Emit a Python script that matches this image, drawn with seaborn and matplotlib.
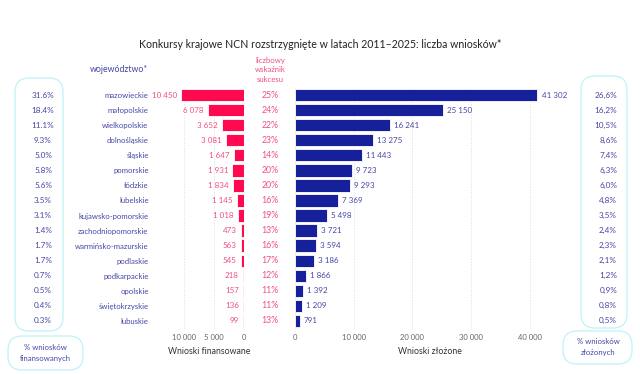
import numpy as np
import pandas as pd
import matplotlib
matplotlib.use("Agg")
import matplotlib.pyplot as plt
import matplotlib.transforms as mtransforms
from matplotlib.patches import FancyBboxPatch
import seaborn as sns

# dane
wojewodztwa = ["mazowieckie", "małopolskie", "wielkopolskie", "dolnośląskie", "śląskie",
               "pomorskie", "łódzkie", "lubelskie", "kujawsko-pomorskie", "zachodniopomorskie",
               "warmińsko-mazurskie", "podlaskie", "podkarpackie", "opolskie",
               "świętokrzyskie", "lubuskie"]
finansowane = [10450, 6078, 3652, 3081, 1647, 1931, 1834, 1145, 1018, 473, 563, 545, 218, 157, 136, 99]
zlozone = [41302, 25150, 16241, 13275, 11443, 9723, 9293, 7369, 5498, 3721, 3594, 3186, 1866, 1392, 1209, 791]
sukces = ["25%", "24%", "22%", "23%", "14%", "20%", "20%", "16%", "19%", "13%", "16%", "17%",
          "12%", "11%", "11%", "13%"]
proc_fin = ["31.6%", "18.4%", "11.1%", "9.3%", "5.0%", "5.8%", "5.6%", "3.5%", "3.1%", "1.4%",
            "1.7%", "1.7%", "0.7%", "0.5%", "0.4%", "0.3%"]
proc_zl = ["26,6%", "16,2%", "10,5%", "8,6%", "7,4%", "6,3%", "6,0%", "4,8%", "3,5%", "2,4%",
           "2,3%", "2,1%", "1,2%", "0,9%", "0,8%", "0,5%"]

df = pd.DataFrame({"woj": wojewodztwa, "fin": finansowane, "zl": zlozone})

ROZ = "#FF0A50"
GRAN = "#15209A"
TXT_ROZ = "#F0507E"
TXT_GRAN = "#4646A8"
SZARY = "#666666"
RAMKA = "#C4F4F8"

sns.set_style("white")
plt.rcParams["font.family"] = ["Lato", "DejaVu Sans"]

W, H = 640, 374
fig = plt.figure(figsize=(6.4, 3.74), dpi=100)

def ax_px(x0, x1, y0, y1):
    return fig.add_axes([x0 / W, 1 - y1 / H, (x1 - x0) / W, (y1 - y0) / H])

ax_l = ax_px(175, 244, 87.5, 328.5)
ax_r = ax_px(295, 565, 87.5, 328.5)

fmt = lambda v: f"{v:,}".replace(",", " ")

# lewy panel - wnioski finansowane
sns.barplot(data=df, x="fin", y="woj", color=ROZ, saturation=1, width=0.82,
            edgecolor="white", linewidth=0.6, ax=ax_l)
ax_l.set_xlim(11500, 0)
ax_l.set_xticks([10000, 5000, 0])
ax_l.set_xticklabels([fmt(v) for v in [10000, 5000, 0]])
ax_l.set_xlabel("Wnioski finansowane", fontsize=6.3, color="#333333", labelpad=4)
ax_l.set_ylabel("")
ax_l.tick_params(axis="y", length=0, pad=19, labelsize=5.6, labelcolor=TXT_GRAN)
ax_l.bar_label(ax_l.containers[0], labels=[fmt(v) for v in finansowane],
               padding=3, fontsize=5.8, color=TXT_ROZ)

# prawy panel - wnioski zlozone
sns.barplot(data=df, x="zl", y="woj", color=GRAN, saturation=1, width=0.82,
            edgecolor="white", linewidth=0.6, ax=ax_r)
ax_r.set_xlim(0, 46000)
ax_r.set_xticks([0, 10000, 20000, 30000, 40000])
ax_r.set_xticklabels([fmt(v) for v in [0, 10000, 20000, 30000, 40000]])
ax_r.set_xlabel("Wnioski złożone", fontsize=6.3, color="#333333", labelpad=4)
ax_r.set_ylabel("")
ax_r.set_yticks([])
ax_r.bar_label(ax_r.containers[0], labels=[fmt(v) for v in zlozone],
               padding=3, fontsize=5.8, color=TXT_GRAN)

for ax in (ax_l, ax_r):
    ax.set_ylim(len(wojewodztwa) - 0.5, -0.5)
    sns.despine(ax=ax, left=True, bottom=True)
    ax.tick_params(axis="x", length=0, labelsize=5.5, labelcolor=SZARY, pad=4)
    ax.grid(axis="x", color="#DDDDDD", linestyle=":", linewidth=0.7)
    ax.set_axisbelow(True)

# kolumny tekstowe
tr_fig_data = mtransforms.blended_transform_factory(fig.transFigure, ax_l.transData)
for i in range(len(wojewodztwa)):
    fig.text(270 / W, i, sukces[i], transform=tr_fig_data, ha="center", va="center",
             fontsize=6.3, color=TXT_ROZ)
    fig.text(43 / W, i, proc_fin[i], transform=tr_fig_data, ha="center", va="center",
             fontsize=5.9, color=TXT_GRAN)
    fig.text(617 / W, i, proc_zl[i], transform=tr_fig_data, ha="right", va="center",
             fontsize=5.9, color=TXT_GRAN)

# ramki
def ramka(x0, y0, x1, y1, r):
    p = FancyBboxPatch((x0 / W, 1 - y1 / H), (x1 - x0) / W, (y1 - y0) / H,
                       boxstyle=f"round,pad=0,rounding_size={r / W}",
                       transform=fig.transFigure, fill=False, edgecolor=RAMKA,
                       linewidth=1.0, mutation_aspect=W / H)
    fig.patches.append(p)

ramka(15, 78, 63, 331, 14)
ramka(8, 336, 83, 370, 14)
ramka(581, 76, 627, 328, 14)
ramka(563, 331, 632, 364, 14)

fig.text(45 / W, 1 - 353 / H, "% wniosków\nfinansowanych", ha="center", va="center",
         fontsize=5.6, color=TXT_GRAN, linespacing=1.5)
fig.text(598 / W, 1 - 347 / H, "% wniosków\nzłożonych", ha="center", va="center",
         fontsize=5.6, color=TXT_GRAN, linespacing=1.5)

# naglowki
fig.text(320 / W, 1 - 45 / H, "Konkursy krajowe NCN rozstrzygnięte w latach 2011–2025: liczba wniosków*",
         ha="center", va="center", fontsize=7.6, color="#222222")
fig.text(148 / W, 1 - 70 / H, "województwo*", ha="right", va="center",
         fontsize=6.3, color=TXT_GRAN)
fig.text(270 / W, 1 - 70 / H, "liczbowy\nwskaźnik\nsukcesu", ha="center", va="center",
         fontsize=5.6, color=TXT_ROZ, linespacing=1.5)

fig.savefig("out.png", dpi=100)
